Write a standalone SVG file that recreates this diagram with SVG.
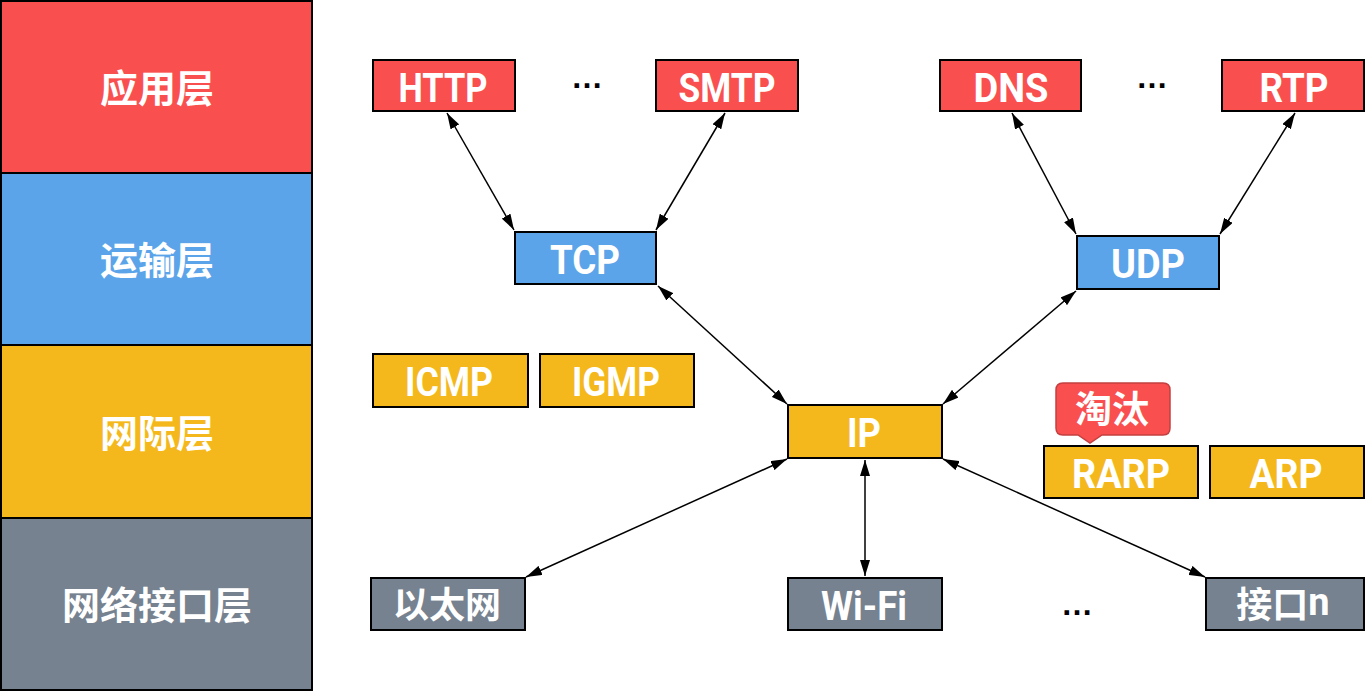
<svg xmlns="http://www.w3.org/2000/svg" width="1366" height="691" viewBox="0 0 1366 691">
<defs>
<style>
.n{stroke:#000;stroke-width:2}
.r{fill:#F94F4F}.b{fill:#5BA4E9}.y{fill:#F4B81C}.g{fill:#76828F}
.t{fill:#fff;font-family:Roboto,"Liberation Sans","Noto Sans CJK SC",sans-serif;font-weight:bold;font-size:40px;text-anchor:middle}
.k{fill:#fff;font-family:"Noto Sans CJK SC",sans-serif;font-weight:bold;font-size:36px;text-anchor:middle;dominant-baseline:central}
.l{fill:#fff;font-family:"Noto Sans CJK SC",sans-serif;font-weight:bold;font-size:38px;text-anchor:middle;dominant-baseline:central}
.c{stroke:#000;stroke-width:1.5;fill:none;marker-start:url(#a);marker-end:url(#a)}
.d{fill:#000;font-family:"Liberation Sans",sans-serif;font-weight:bold;font-size:32px;text-anchor:middle}
</style>
<marker id="a" viewBox="0 0 16 10" refX="16" refY="5" markerWidth="16" markerHeight="10" markerUnits="userSpaceOnUse" orient="auto-start-reverse"><path d="M0,0 L16,5 L0,10 Z" fill="#000"/></marker>
</defs>
<rect width="1366" height="691" fill="#fff"/>
<g id="layers">
<g id="layer-app"><rect class="n r" x="1" y="1" width="311" height="172"/><text class="l" x="157" y="85">应用层</text></g>
<g id="layer-transport"><rect class="n b" x="1" y="173" width="311" height="172"/><text class="l" x="157" y="257">运输层</text></g>
<g id="layer-internet"><rect class="n y" x="1" y="345" width="311" height="173"/><text class="l" x="157" y="430">网际层</text></g>
<g id="layer-link"><rect class="n g" x="1" y="518" width="311" height="172"/><text class="l" x="157" y="602">网络接口层</text></g>
</g>
<g id="connectors">
<line class="c" x1="447" y1="113" x2="514" y2="230"/>
<line class="c" x1="725" y1="113" x2="656" y2="230"/>
<line class="c" x1="1012" y1="113" x2="1076" y2="234"/>
<line class="c" x1="1295" y1="113" x2="1220" y2="234"/>
<line class="c" x1="658" y1="286" x2="787" y2="404"/>
<line class="c" x1="1076" y1="291" x2="943" y2="404"/>
<line class="c" x1="787" y1="459" x2="526" y2="577"/>
<line class="c" x1="865" y1="460" x2="865" y2="576"/>
<line class="c" x1="943" y1="459" x2="1205" y2="577"/>
</g>
<g id="HTTP"><rect class="n r" x="373" y="60" width="142" height="51"/><text class="t" x="443" y="102" textLength="89" lengthAdjust="spacingAndGlyphs">HTTP</text></g>
<g id="SMTP"><rect class="n r" x="656" y="60" width="142" height="51"/><text class="t" x="727" y="102" textLength="97" lengthAdjust="spacingAndGlyphs">SMTP</text></g>
<g id="DNS"><rect class="n r" x="940" y="60" width="141" height="51"/><text class="t" x="1011" y="102" textLength="75" lengthAdjust="spacingAndGlyphs">DNS</text></g>
<g id="RTP"><rect class="n r" x="1222" y="60" width="142" height="51"/><text class="t" x="1294" y="102" textLength="69" lengthAdjust="spacingAndGlyphs">RTP</text></g>
<g id="TCP"><rect class="n b" x="515" y="232" width="141" height="52"/><text class="t" x="585" y="274" textLength="70" lengthAdjust="spacingAndGlyphs">TCP</text></g>
<g id="UDP"><rect class="n b" x="1077" y="236" width="142" height="53"/><text class="t" x="1148" y="278" textLength="74" lengthAdjust="spacingAndGlyphs">UDP</text></g>
<g id="ICMP"><rect class="n y" x="373" y="354" width="155" height="53"/><text class="t" x="449" y="396" textLength="88" lengthAdjust="spacingAndGlyphs">ICMP</text></g>
<g id="IGMP"><rect class="n y" x="540" y="354" width="154" height="53"/><text class="t" x="616" y="396" textLength="88" lengthAdjust="spacingAndGlyphs">IGMP</text></g>
<g id="IP"><rect class="n y" x="788" y="405" width="154" height="53"/><text class="t" x="864" y="447" textLength="34" lengthAdjust="spacingAndGlyphs">IP</text></g>
<g id="RARP"><rect class="n y" x="1044" y="446" width="154" height="52"/><text class="t" x="1121" y="488" textLength="98" lengthAdjust="spacingAndGlyphs">RARP</text></g>
<g id="ARP"><rect class="n y" x="1210" y="446" width="154" height="52"/><text class="t" x="1286" y="488" textLength="73" lengthAdjust="spacingAndGlyphs">ARP</text></g>
<g id="ethernet"><rect class="n g" x="371" y="578" width="154" height="52"/><text class="k" x="447" y="602">以太网</text></g>
<g id="wifi"><rect class="n g" x="788" y="578" width="154" height="52"/><text class="t" x="864" y="620" textLength="86" lengthAdjust="spacingAndGlyphs">Wi-Fi</text></g>
<g id="ifn"><rect class="n g" x="1206" y="578" width="158" height="52"/><text class="k" x="1283" y="602">接口<tspan style="font-family:Roboto,sans-serif;font-size:38px">n</tspan></text></g>
<g id="deprecated"><path d="M1063,383 H1163 Q1170,383 1170,390 V428 Q1170,435 1163,435 H1102 L1090,443 L1078,435 H1063 Q1056,435 1056,428 V390 Q1056,383 1063,383 Z" fill="#F94F4F" stroke="#C44040" stroke-width="1.5"/><text class="k" x="1112" y="407" style="font-size:37px">淘汰</text></g>
<g id="ellipses">
<text class="d" x="587" y="88">…</text>
<text class="d" x="1152" y="88">…</text>
<text class="d" x="1077" y="615">…</text>
</g>
</svg>
